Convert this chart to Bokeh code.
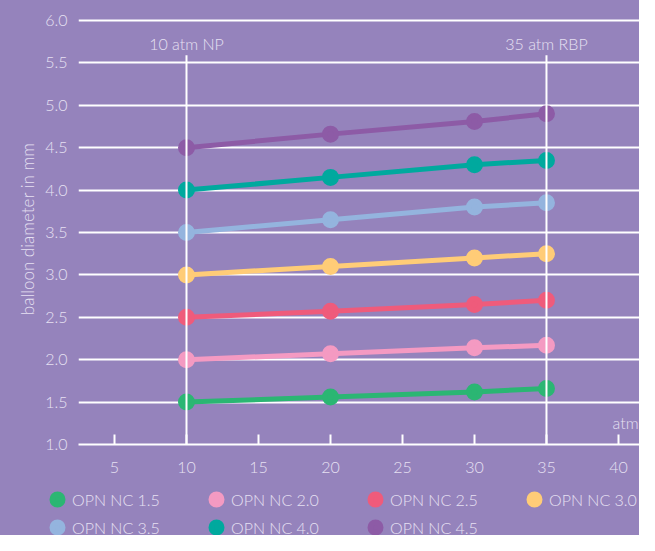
from bokeh.plotting import figure
from bokeh.layouts import column
from bokeh.models import FixedTicker, Legend, LegendItem, Label, PrintfTickFormatter, Range1d
from bokeh.embed import file_html
from bokeh.resources import INLINE
from bokeh.core.properties import value

# ---- data ----
pressure = [10, 20, 30, 35]
series_names = ["OPN NC 1.5", "OPN NC 2.0", "OPN NC 2.5", "OPN NC 3.0",
                "OPN NC 3.5", "OPN NC 4.0", "OPN NC 4.5"]
d_15 = [1.50, 1.56, 1.62, 1.66]
d_20 = [2.00, 2.07, 2.14, 2.17]
d_25 = [2.50, 2.57, 2.65, 2.70]
d_30 = [3.00, 3.10, 3.20, 3.25]
d_35 = [3.50, 3.65, 3.80, 3.85]
d_40 = [4.00, 4.15, 4.30, 4.35]
d_45 = [4.50, 4.66, 4.81, 4.90]
series_values = [d_15, d_20, d_25, d_30, d_35, d_40, d_45]
colors = ["#2bb673", "#f49ac2", "#ef5b7b", "#ffcc77", "#94b4de", "#00a99e", "#8d5ba6"]
x_ticks = [5, 10, 15, 20, 25, 30, 35, 40]
y_ticks = [1.0, 1.5, 2.0, 2.5, 3.0, 3.5, 4.0, 4.5, 5.0, 5.5, 6.0]
marker_pressures = [10, 35]
marker_labels = ["10 atm NP", "35 atm RBP"]

BG = "#9583bc"
TXT = "#e6e0f2"
FONT = "Lato Light, Lato"

p = figure(width=639, height=480, output_backend="svg", toolbar_location=None,
           x_range=Range1d(2.5, 41.46), y_range=Range1d(1.0, 6.0825),
           min_border_left=78, min_border_right=0, min_border_top=13, min_border_bottom=36)
p.frame_align = False
p.background_fill_color = None
p.border_fill_color = None
p.outline_line_color = None
p.styles = {"background-color": BG}

# axes
p.xaxis.ticker = FixedTicker(ticks=x_ticks)
p.xaxis.axis_line_color = "white"
p.xaxis.axis_line_width = 2
p.xaxis.major_tick_in = 10
p.xaxis.major_tick_out = 0
p.xaxis.major_tick_line_color = "white"
p.xaxis.major_tick_line_width = 2
p.xaxis.minor_tick_line_color = None
p.xaxis.major_label_standoff = 17
p.xaxis.major_label_text_color = TXT
p.xaxis.major_label_text_font = FONT
p.xaxis.major_label_text_font_size = "16px"

p.yaxis.ticker = FixedTicker(ticks=y_ticks)
p.yaxis.formatter = PrintfTickFormatter(format="%.1f")
p.yaxis.axis_line_color = None
p.yaxis.major_tick_line_color = None
p.yaxis.minor_tick_line_color = None
p.yaxis.major_label_standoff = 5
p.yaxis.major_label_text_color = TXT
p.yaxis.major_label_text_font = FONT
p.yaxis.major_label_text_font_size = "16px"
p.yaxis.axis_label = "balloon diameter in mm"
p.yaxis.axis_label_text_color = TXT
p.yaxis.axis_label_text_font = FONT
p.yaxis.axis_label_text_font_style = "normal"
p.yaxis.axis_label_text_font_size = "17px"
p.yaxis.axis_label_standoff = 4

p.xgrid.grid_line_color = None
p.ygrid.ticker = FixedTicker(ticks=y_ticks)
p.ygrid.grid_line_color = "white"
p.ygrid.grid_line_width = 2

# series
for name, ys, c in zip(series_names, series_values, colors):
    p.line(pressure, ys, line_color=c, line_width=5)
    p.scatter(pressure, ys, size=11.4, fill_color=c, line_color=c, line_width=5.6)

# NP / RBP marker lines
p.segment(x0=marker_pressures, y0=[1.0, 1.0], x1=marker_pressures, y1=[5.59, 5.59],
          line_color="white", line_width=2)
p.text(x=marker_pressures, y=[5.73, 5.73], text=marker_labels, text_align="center",
       text_baseline="middle", text_color=TXT, text_font=value(FONT), text_font_size="16px")

p.add_layout(Label(x=41.4, y=1.26, text="atm", text_align="right", text_baseline="middle",
                   text_color=TXT, text_font=FONT, text_font_size="16px"))

# legend in its own strip below the chart
lg = figure(width=639, height=55, output_backend="svg", toolbar_location=None,
            x_range=Range1d(0, 1), y_range=Range1d(0, 1),
            x_axis_location=None, y_axis_location=None,
            min_border_left=0, min_border_right=0, min_border_top=0, min_border_bottom=0)
lg.frame_align = False
lg.background_fill_color = None
lg.border_fill_color = None
lg.outline_line_color = None
lg.styles = {"background-color": BG}
lg.xgrid.visible = False
lg.ygrid.visible = False
renderers = []
for name, ys, c in zip(series_names, series_values, colors):
    renderers.append(lg.scatter(pressure, ys, size=11.4, fill_color=c, line_color=c,
                                line_width=5.6))
# legend fills column by column: order so that rows read 1.5..3.0 / 3.5..4.5
order = [0, 4, 1, 5, 2, 6, 3]
items = [LegendItem(label=series_names[i], renderers=[renderers[i]]) for i in order]

legend = Legend(items=items, ncols=4, location=(44, -5),
                glyph_width=26, glyph_height=26, label_standoff=2, label_width=129,
                label_height=26, spacing=2, padding=0, margin=0,
                background_fill_alpha=0, border_line_alpha=0,
                label_text_color=TXT, label_text_font=FONT, label_text_font_size="16px")
lg.add_layout(legend, "center")

layout = column(p, lg, spacing=0, styles={"background-color": BG})
open("out.html", "w").write(file_html(layout, INLINE))
